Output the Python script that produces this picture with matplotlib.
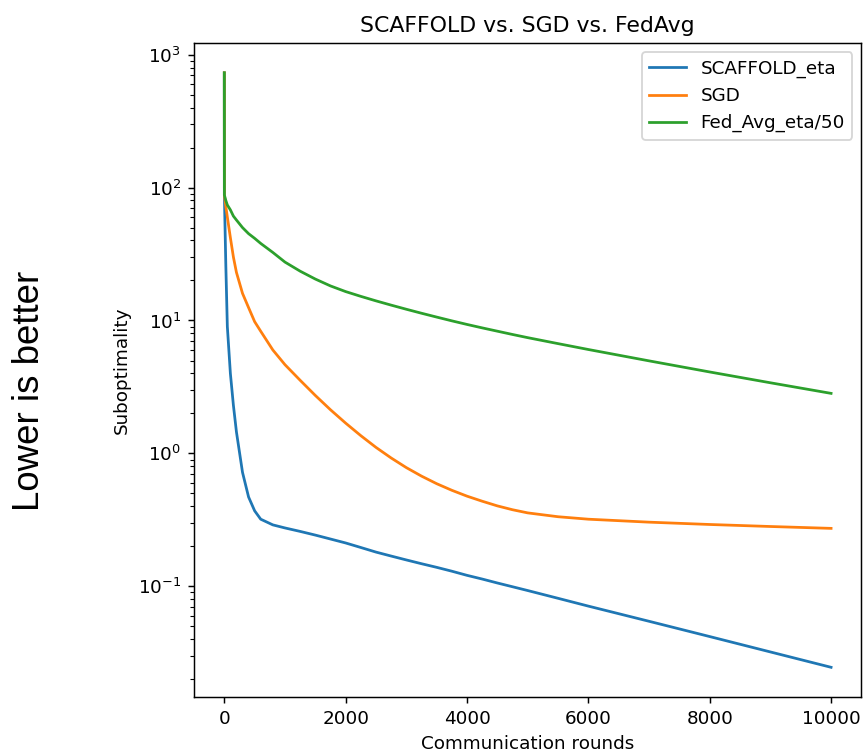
import matplotlib
matplotlib.use("Agg")
import matplotlib.pyplot as plt

# communication rounds at which suboptimality was recorded
rounds = [0, 1, 25, 50, 100, 150, 200, 300, 400, 500, 600, 800, 1000,
          1250, 1500, 1750, 2000, 2250, 2500, 2750, 3000, 3250, 3500, 3750,
          4000, 4250, 4500, 4750, 5000, 5500, 6000, 7000, 8000, 9000, 10000]

scaffold = [730, 88, 26, 9.0, 4.0, 2.3, 1.45, 0.72, 0.47, 0.37, 0.32, 0.29, 0.275,
            0.259, 0.243, 0.227, 0.212, 0.196, 0.181, 0.169, 0.158, 0.148, 0.139, 0.130,
            0.121, 0.1135, 0.106, 0.0993, 0.093, 0.0813, 0.071, 0.0546, 0.0419, 0.0321, 0.0246]

sgd = [730, 88, 72, 60, 42, 30, 23, 16, 12.5, 9.8, 8.3, 6.0, 4.65,
       3.55, 2.73, 2.13, 1.69, 1.36, 1.11, 0.924, 0.782, 0.675, 0.592, 0.528,
       0.477, 0.437, 0.403, 0.377, 0.357, 0.334, 0.320, 0.304, 0.292, 0.282, 0.273]

fedavg = [730, 88, 80, 74, 68, 61, 57, 50, 45, 41.5, 38, 32.5, 27.5,
          23.5, 20.5, 18.2, 16.5, 15.19, 14.05, 13.05, 12.15, 11.34, 10.61, 9.94,
          9.34, 8.80, 8.31, 7.85, 7.43, 6.70, 6.05, 4.97, 4.10, 3.40, 2.83]

labels = ['SCAFFOLD_eta', 'SGD', 'Fed_Avg_eta/50']

dpi = 132
fig = plt.figure(figsize=(864 / dpi, 756 / dpi), dpi=dpi)
ax = fig.add_axes([0.2245, 0.078, 0.7725, 0.865])

ax.plot(rounds, scaffold, label=labels[0])
ax.plot(rounds, sgd, label=labels[1])
ax.plot(rounds, fedavg, label=labels[2])
ax.set_yscale('log')

ax.set_title('SCAFFOLD vs. SGD vs. FedAvg')
ax.set_xlabel('Communication rounds')
ax.set_ylabel('Suboptimality')
ax.legend(loc='upper right')

fig.text(0.034, 0.483, 'Lower is better', rotation=90, ha='center', va='center',
         fontsize=20, family=['Liberation Sans', 'DejaVu Sans'])

fig.savefig('out.png', dpi=dpi)
